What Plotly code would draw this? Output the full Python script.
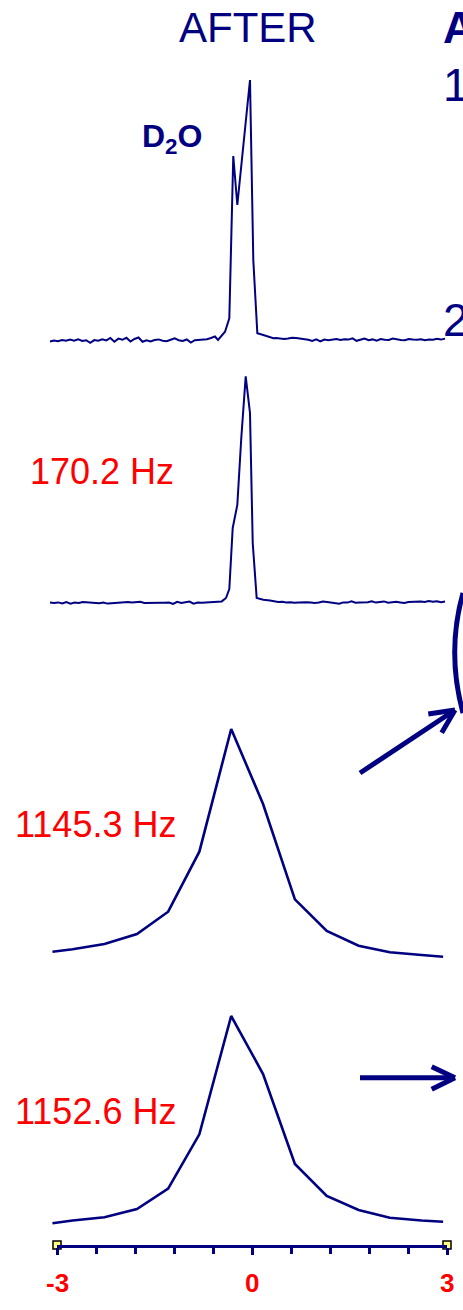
import numpy as np
import plotly.graph_objects as go

W, H = 463, 1310
NAVY = "#000080"
RED = "#FF0000"
FONT = "Liberation Sans, Arial, sans-serif"

# ---------------- data (chemical shift units, intensity a.u.) ----------------
# D2O reference spectrum
d2o_noise_left = [-0.5, 0.5, -0.3, 1.0, 0.2, 1.5, 0.4, 1.8, 0.0, 0.8, -1.8, 0.9, 0.2, 1.6,
                  0.6, 3.0, -0.8, 2.4, 1.2, 3.2, -0.6, 2.0, 3.5, -0.8, 0.6, -0.4, 1.0, 1.6,
                  0.3, -0.3, 1.2, 2.6, 0.8, 0.0, 1.5, -1.5, 0.8, 1.2, 2.0, 1.8, 3.0, 4.5]
d2o_peak_x = [-0.523, -0.415, -0.349, -0.288, -0.226, -0.031, 0.020, 0.082, 0.174, 0.328]
d2o_peak_y = [1.0, 9.3, 22.7, 185.0, 136.0, 261.0, 81.0, 7.7, 6.0, 2.7]
d2o_noise_right = [3.0, 2.6, 2.0, 2.4, 3.2, 3.0, 2.5, 1.8, 1.2, 0.0, 1.6, -0.5, 1.5, 0.8,
                   1.2, 2.0, 1.0, 1.8, 1.4, 2.6, 0.2, 1.4, 2.4, 0.8, 1.6, 0.4, 2.0, 1.2,
                   1.0, 2.4, 1.6, 1.0, 0.8, 2.0, 1.4, 1.2, 1.8, 0.8, 1.6, 1.2, 2.2, 1.4, 2.4]

# 170.2 Hz spectrum
s170_noise_left = [0.5, 0.0, 0.6, -0.4, 1.0, -0.6, 0.4, 0.0, 1.0, 0.6, 0.3, 0.0, -0.3, 0.4,
                   -0.6, -0.2, 0.0, 0.6, 0.2, 1.0, 0.4, 0.8, 1.2, 0.0, 0.2, -0.3, 0.0, 0.3,
                   0.2, 0.5, -1.0, 1.2, 0.0, 0.4, 1.5, -0.6, 0.4, 0.2, 0.6, 0.8, 1.0, 1.2]
s170_peak_x = [-0.466, -0.400, -0.349, -0.297, -0.226, -0.165, -0.097, -0.031, 0.011, 0.072, 0.174, 0.277]
s170_peak_y = [1.6, 5.0, 14.0, 75.0, 98.0, 165.0, 226.6, 190.0, 60.0, 5.0, 3.3, 2.6]
s170_noise_right = [1.8, 1.0, 1.2, 0.4, 0.8, 0.2, 0.6, 1.0, 0.8, 0.6, 0.0, 0.6, 1.4, 1.0,
                    0.6, 0.2, -0.8, 0.6, 0.4, 1.6, 0.2, 0.6, 0.4, 0.8, 1.8, 0.4, 1.0, 1.6,
                    0.2, 0.8, 1.2, 0.6, 0.0, 1.0, 1.2, 0.8, 1.6, 1.0, 2.0, 1.2, 1.8, 0.8, 1.6]

# 1145.3 Hz spectrum
s1145_x = [-3.07, -2.76, -2.27, -1.77, -1.29, -0.81, -0.32, 0.17, 0.66, 1.15, 1.64, 2.12, 2.61, 2.94]
s1145_y = [8.3, 10.7, 16.0, 26.0, 48.3, 108.3, 231.0, 156.0, 60.7, 29.0, 14.3, 7.7, 5.0, 3.3]

# 1152.6 Hz spectrum
s1152_x = [-3.07, -2.76, -2.27, -1.77, -1.29, -0.81, -0.32, 0.17, 0.66, 1.15, 1.64, 2.12, 2.61, 2.94]
s1152_y = [1.7, 4.5, 7.7, 16.0, 36.3, 90.7, 209.0, 151.0, 61.0, 29.0, 15.0, 7.3, 4.5, 3.3]

labels = ["170.2 Hz", "1145.3 Hz", "1152.6 Hz"]
major_ticks = [-3, 0, 3]
major_text = ["-3", "0", "3"]
minor_ticks = [-2.4, -1.8, -1.2, -0.6, 0.6, 1.2, 1.8, 2.4]

# noise x grids
d2o_x_left = list(np.linspace(-3.108, -0.57, len(d2o_noise_left)))
d2o_x_right = list(np.linspace(0.37, 2.97, len(d2o_noise_right)))
s170_x_left = list(np.linspace(-3.108, -0.52, len(s170_noise_left)))
s170_x_right = list(np.linspace(0.34, 2.97, len(s170_noise_right)))


def py(px):
    return 1 - px / H


def pxx(px):
    return px / W


fig = go.Figure()
line_thin = dict(color=NAVY, width=2)
line_thick = dict(color=NAVY, width=2.6)

fig.add_trace(go.Scatter(x=d2o_x_left + d2o_peak_x + d2o_x_right,
                         y=d2o_noise_left + d2o_peak_y + d2o_noise_right,
                         mode="lines", line=line_thin, xaxis="x", yaxis="y"))
fig.add_trace(go.Scatter(x=s170_x_left + s170_peak_x + s170_x_right,
                         y=s170_noise_left + s170_peak_y + s170_noise_right,
                         mode="lines", line=line_thin, xaxis="x", yaxis="y2"))
fig.add_trace(go.Scatter(x=s1145_x, y=s1145_y, mode="lines", line=line_thick,
                         xaxis="x", yaxis="y3"))
fig.add_trace(go.Scatter(x=s1152_x, y=s1152_y, mode="lines", line=line_thick,
                         xaxis="x", yaxis="y4"))
# axis end markers
fig.add_trace(go.Scatter(x=[major_ticks[0], major_ticks[-1]], y=[0, 0], mode="markers",
                         marker=dict(symbol="square", size=8, color="#FFFF80",
                                     line=dict(color="black", width=1.5)),
                         xaxis="x2", yaxis="y5", cliponaxis=False))


def ydom(top_px, bot_px, base_px):
    return dict(domain=[py(bot_px), py(top_px)], range=[base_px - bot_px, base_px - top_px],
                visible=False, fixedrange=True, automargin=False)


fig.update_layout(
    width=W, height=H, autosize=False,
    margin=dict(l=0, r=0, t=0, b=0, pad=0, autoexpand=False),
    paper_bgcolor="white", plot_bgcolor="white", showlegend=False,
    xaxis=dict(domain=[0, 1], range=[-252 / 65, 211 / 65], visible=False, fixedrange=True,
               automargin=False),
    xaxis2=dict(domain=[pxx(57), pxx(447)], range=[-3, 3], anchor="y5", side="bottom",
                automargin=False,
                showline=True, linecolor=NAVY, linewidth=3, showgrid=False, zeroline=False,
                tickmode="array", tickvals=major_ticks, showticklabels=False,
                ticks="outside", ticklen=7, tickwidth=3, tickcolor=NAVY,
                minor=dict(tickmode="array", tickvals=minor_ticks, ticks="outside",
                           ticklen=6, tickwidth=3, tickcolor=NAVY, showgrid=False)),
    yaxis=ydom(60, 360, 341),
    yaxis2=ydom(360, 620, 603),
    yaxis3=ydom(700, 975, 960),
    yaxis4=ydom(1000, 1235, 1225),
    yaxis5=dict(domain=[py(1245), py(1230)], range=[0, 15], visible=False, automargin=False),
)

ann = []
ann.append(dict(text="AFTER", x=pxx(248), y=py(27), font=dict(family=FONT, size=42, color=NAVY)))
ann.append(dict(text="<b>D<sub>2</sub>O</b>", x=pxx(140), y=py(138), xanchor="left",
                font=dict(family=FONT, size=32, color=NAVY)))
for lab, cx, cy in zip(labels, [102, 95, 95], [471, 824, 1111]):
    ann.append(dict(text=lab, x=pxx(cx), y=py(cy), font=dict(family=FONT, size=36, color=RED)))
ann.append(dict(text="<b>A</b>", x=pxx(441), y=py(27), xanchor="left",
                font=dict(family=FONT, size=44, color=NAVY)))
ann.append(dict(text="1", x=pxx(441), y=py(85), xanchor="left",
                font=dict(family=FONT, size=46, color=NAVY)))
ann.append(dict(text="2", x=pxx(441), y=py(320), xanchor="left",
                font=dict(family=FONT, size=46, color=NAVY)))
for a in ann:
    a.update(xref="paper", yref="paper")
# tick labels of the shift axis, placed through the axis scale
for v, t in zip(major_ticks, major_text):
    ann.append(dict(text=f"<b>{t}</b>", x=v, xref="x2", y=py(1283), yref="paper",
                    font=dict(family=FONT, size=26, color=RED)))
for a in ann:
    a.update(showarrow=False)
    a.setdefault("xanchor", "center")
    a.setdefault("yanchor", "middle")
fig.update_layout(annotations=ann)


def seg(p0, p1):
    return (f"M {pxx(p0[0]):.5f},{py(p0[1]):.5f} "
            f"L {pxx(p1[0]):.5f},{py(p1[1]):.5f}")


arc = (f"M {pxx(463):.5f},{py(593):.5f} "
       f"Q {pxx(446.4):.5f},{py(652):.5f} {pxx(463):.5f},{py(713):.5f}")

shapes = [
    dict(type="path", path=arc, line=dict(color=NAVY, width=5)),
    # diagonal arrow
    dict(type="path", path=seg((360, 773), (455, 710)), line=dict(color=NAVY, width=5)),
    dict(type="path", path=seg((428.3, 714), (455, 710)), line=dict(color=NAVY, width=5)),
    dict(type="path", path=seg((441.7, 732.7), (455, 710)), line=dict(color=NAVY, width=5)),
    # horizontal arrow
    dict(type="path", path=seg((360, 1077.7), (455, 1077.7)), line=dict(color=NAVY, width=5)),
    dict(type="path", path=seg((431.7, 1066.7), (455, 1077.7)), line=dict(color=NAVY, width=5)),
    dict(type="path", path=seg((431.7, 1089.3), (455, 1077.7)), line=dict(color=NAVY, width=5)),
]
for s in shapes:
    s.update(xref="paper", yref="paper")
fig.update_layout(shapes=shapes)

fig.write_html("out.html")
